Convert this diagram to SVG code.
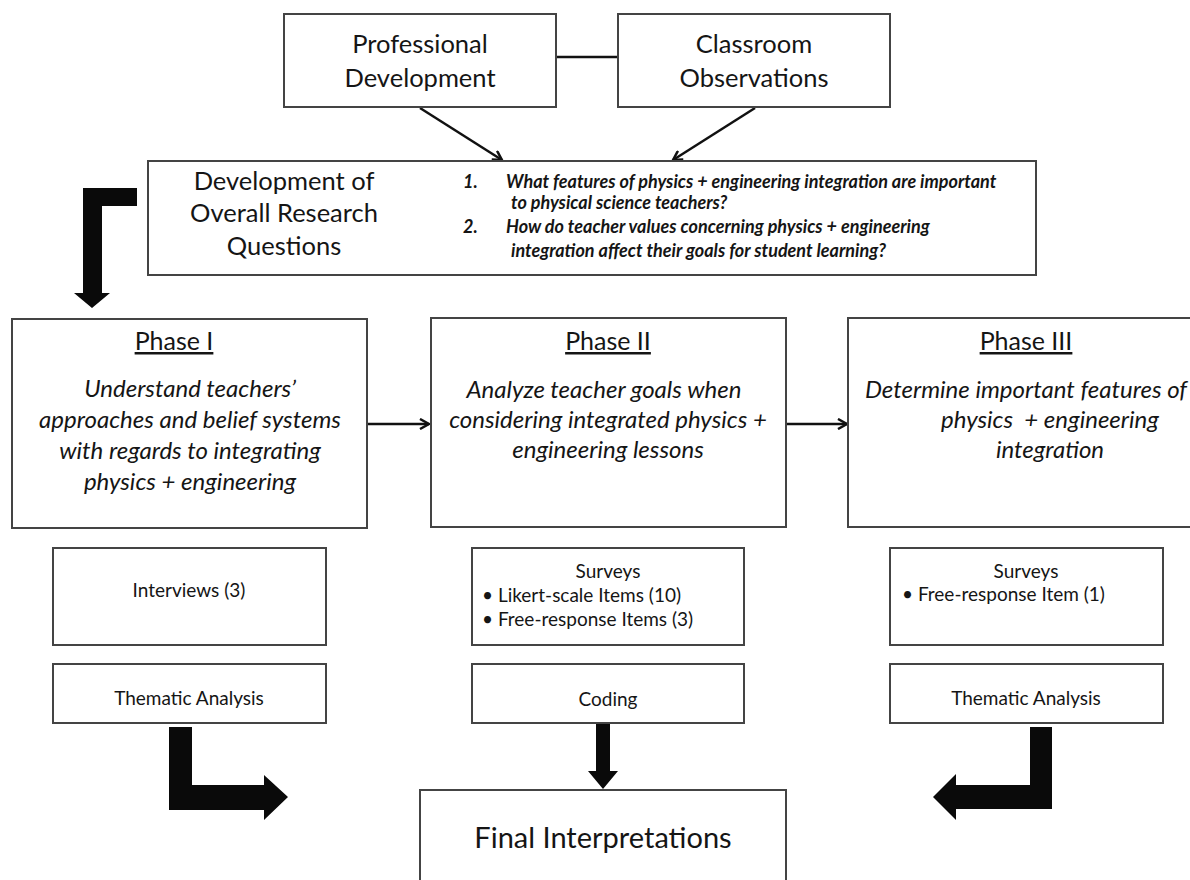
<svg xmlns="http://www.w3.org/2000/svg" width="1190" height="880" viewBox="0 0 1190 880">
<style>
.box{fill:#fff;stroke:#444;stroke-width:2}
.t{font-family:Lato,"Liberation Sans",sans-serif;fill:#151515}
.c{text-anchor:middle}
.big{font-size:25.5px}
.q{font-size:18px;font-style:italic;font-weight:bold}
.ph{font-size:25px;text-decoration:underline}
.body{font-size:24px;font-style:italic}
.sm{font-size:19px}
.ln{stroke:#111;stroke-width:2.5;fill:none}
.blk{fill:#0a0a0a}
</style>
<defs>
<marker id="ah" markerWidth="12" markerHeight="12" refX="10" refY="6" orient="auto" markerUnits="userSpaceOnUse">
<path d="M1,1 L10,6 L1,11" fill="none" stroke="#111" stroke-width="2.5"/>
</marker>
</defs>
<g id="connectors">
<line class="ln" x1="556" y1="57" x2="618" y2="57"/>
<line class="ln" x1="420" y1="108" x2="502" y2="160" marker-end="url(#ah)"/>
<line class="ln" x1="755" y1="108" x2="673" y2="160" marker-end="url(#ah)"/>
<line class="ln" x1="368" y1="424" x2="429" y2="424" marker-end="url(#ah)"/>
<line class="ln" x1="786" y1="424" x2="847" y2="424" marker-end="url(#ah)"/>
<path class="blk" d="M137,188 L83,188 L83,293 L74,293 L92,308 L110,293 L102,293 L102,206 L137,206 Z"/>
<path class="blk" d="M169,727 L192,727 L192,785 L264,785 L264,775 L288,797 L264,820 L264,810 L169,810 Z"/>
<path class="blk" d="M596,723 L610,723 L610,771 L618,771 L603,789 L588,771 L596,771 Z"/>
<path class="blk" d="M1052,727 L1030,727 L1030,785 L956,785 L956,774 L933,797 L956,820 L956,809 L1052,809 Z"/>
</g>
<g id="pd">
<rect class="box" x="284" y="14" width="272" height="93"/>
<text class="t c big" x="420" y="53">Professional</text>
<text class="t c big" x="420" y="87">Development</text>
</g>
<g id="co">
<rect class="box" x="618" y="14" width="272" height="93"/>
<text class="t c big" x="754" y="53">Classroom</text>
<text class="t c big" x="754" y="87">Observations</text>
</g>
<g id="rq">
<rect class="box" x="148" y="161" width="888" height="114"/>
<text class="t c big" x="284" y="190">Development of</text>
<text class="t c big" x="284" y="222">Overall Research</text>
<text class="t c big" x="284" y="255">Questions</text>
<text class="t q" x="463" y="188">1.</text>
<text class="t q" x="506" y="188">What features of physics + engineering integration are important</text>
<text class="t q" x="511" y="209">to physical science teachers?</text>
<text class="t q" x="463" y="233">2.</text>
<text class="t q" x="506" y="233">How do teacher values concerning physics + engineering</text>
<text class="t q" x="511" y="257">integration affect their goals for student learning?</text>
</g>
<g id="phase1">
<rect class="box" x="12" y="319" width="355" height="209"/>
<text class="t c ph" x="174" y="350">Phase I</text>
<text class="t c body" x="190" y="397">Understand teachers’</text>
<text class="t c body" x="190" y="428">approaches and belief systems</text>
<text class="t c body" x="190" y="459">with regards to integrating</text>
<text class="t c body" x="190" y="490">physics + engineering</text>
</g>
<g id="phase2">
<rect class="box" x="431" y="318" width="355" height="209"/>
<text class="t c ph" x="608" y="350">Phase II</text>
<text class="t c body" x="604" y="398">Analyze teacher goals when</text>
<text class="t c body" x="608" y="428">considering integrated physics +</text>
<text class="t c body" x="608" y="458">engineering lessons</text>
</g>
<g id="phase3">
<rect class="box" x="848" y="318" width="350" height="209"/>
<text class="t c ph" x="1026" y="350">Phase III</text>
<text class="t c body" x="1026" y="398">Determine important features of</text>
<text class="t c body" x="1050" y="428" xml:space="preserve">physics  + engineering</text>
<text class="t c body" x="1050" y="458">integration</text>
</g>
<g id="interviews">
<rect class="box" x="53" y="548" width="273" height="97"/>
<text class="t c sm" x="189" y="597">Interviews (3)</text>
</g>
<g id="thematic1">
<rect class="box" x="53" y="664" width="273" height="59"/>
<text class="t c sm" x="189" y="705">Thematic Analysis</text>
</g>
<g id="surveys2">
<rect class="box" x="472" y="548" width="272" height="97"/>
<text class="t c sm" x="608" y="578">Surveys</text>
<text class="t sm" x="482" y="602">• Likert-scale Items (10)</text>
<text class="t sm" x="482" y="626">• Free-response Items (3)</text>
</g>
<g id="coding">
<rect class="box" x="472" y="664" width="272" height="59"/>
<text class="t c sm" x="608" y="706">Coding</text>
</g>
<g id="surveys3">
<rect class="box" x="890" y="548" width="273" height="97"/>
<text class="t c sm" x="1026" y="578">Surveys</text>
<text class="t sm" x="902" y="601">• Free-response Item (1)</text>
</g>
<g id="thematic3">
<rect class="box" x="890" y="664" width="273" height="59"/>
<text class="t c sm" x="1026" y="705">Thematic Analysis</text>
</g>
<g id="final">
<rect class="box" x="420" y="790" width="366" height="100"/>
<text class="t c" style="font-size:29px" x="603" y="848">Final Interpretations</text>
</g>
</svg>
